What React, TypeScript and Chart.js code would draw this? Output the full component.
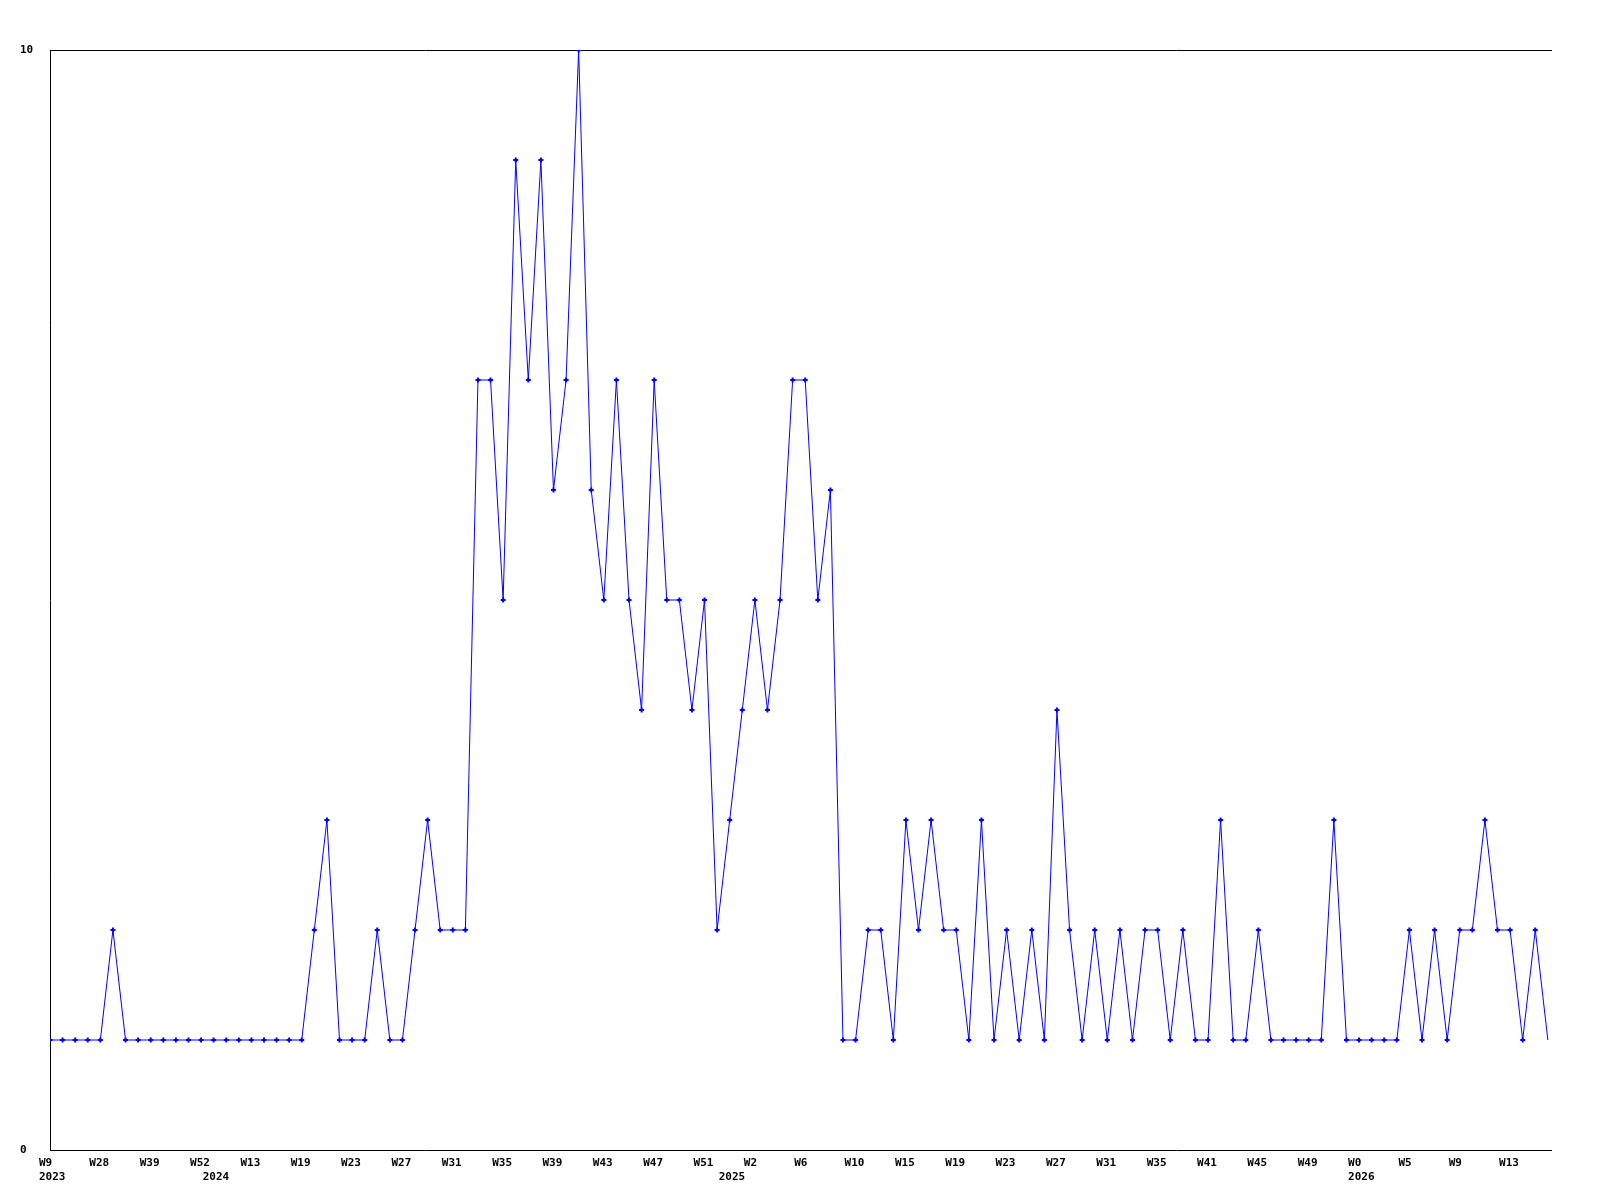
import React, { useEffect, useRef } from "react";
import { Chart, registerables } from "chart.js";

Chart.register(...registerables);

// Weekly series values (one per point, left to right)
const values: number[] = [
  1, 1, 1, 1, 1, 2, 1, 1, 1, 1, 1, 1, 1, 1, 1, 1, 1, 1, 1, 1, 1,
  2, 3, 1, 1, 1, 2, 1, 1, 2, 3, 2, 2, 2,
  7, 7, 5, 9, 7, 9, 6, 7, 10, 6, 5, 7, 5, 4, 7, 5, 5, 4, 5, 2, 3, 4, 5, 4, 5, 7, 7, 5, 6,
  1, 1, 2, 2, 1, 3, 2, 3, 2, 2, 1, 3, 1, 2, 1, 2, 1, 4, 2,
  1, 2, 1, 2, 1, 2, 2, 1, 2, 1, 1, 3, 1, 1, 2, 1, 1, 1, 1, 1, 3, 1, 1, 1, 1, 1, 2, 1, 2, 1, 2, 2, 3, 2, 2, 1, 2, 1,
];

// Week tick labels, shown on every 4th point
const weekTickLabels: string[] = [
  "W9", "W28", "W39", "W52", "W13", "W19", "W23", "W27", "W31", "W35",
  "W39", "W43", "W47", "W51", "W2", "W6", "W10", "W15", "W19", "W23",
  "W27", "W31", "W35", "W41", "W45", "W49", "W0", "W5", "W9", "W13",
];
const weekTickEvery = 4;

// Year labels and the point index they sit under
const yearTickPositions: number[] = [0, 13, 54, 104];
const yearTickLabels: string[] = ["2023", "2024", "2025", "2026"];

// Y axis tick values
const yTickValues: number[] = [0, 10];

const FONT = { family: "'DejaVu Sans Mono', monospace", size: 11, weight: "bold" as const };

export default function App() {
  const canvasRef = useRef<HTMLCanvasElement | null>(null);

  useEffect(() => {
    const canvas = canvasRef.current;
    if (!canvas) return;
    const xMax = values.length - 1 + 0.25;
    const points = values.map((v, i) => ({ x: i, y: v }));

    const chart = new Chart(canvas, {
      type: "line",
      data: {
        datasets: [
          {
            data: points,
            borderColor: "#0000ff",
            backgroundColor: "#0000ff",
            borderWidth: 1,
            pointStyle: "cross",
            pointRadius: (ctx: any) => (ctx.dataIndex === values.length - 1 ? 0 : 2.5),
            pointBorderWidth: 2,
            pointBorderColor: "#0000ff",
            pointBackgroundColor: "#0000ff",
            tension: 0,
            xAxisID: "x",
            yAxisID: "y",
          },
        ],
      },
      options: {
        responsive: false,
        animation: false,
        layout: { padding: { left: 20, top: 50, right: 49, bottom: 0 } },
        plugins: { legend: { display: false }, tooltip: { enabled: false } },
        scales: {
          x: {
            type: "linear",
            position: "bottom",
            weight: 0,
            min: 0,
            max: xMax,
            grid: { display: false, drawTicks: false },
            border: { display: true, color: "#000", width: 1 },
            afterBuildTicks: (scale: any) => {
              scale.ticks = weekTickLabels.map((_, i) => ({ value: i * weekTickEvery }));
            },
            afterFit: (scale: any) => {
              scale.height = 18;
            },
            ticks: {
              autoSkip: false,
              maxRotation: 0,
              padding: 7,
              align: "start",
              labelOffset: -11,
              color: "#000",
              font: FONT,
              callback: (value: any) => {
                const idx = Math.round(Number(value) / weekTickEvery);
                return weekTickLabels[idx] ?? "";
              },
            },
          },
          years: {
            type: "linear",
            position: "bottom",
            weight: 1,
            min: 0,
            max: xMax,
            grid: { display: false, drawTicks: false },
            border: { display: false },
            afterBuildTicks: (scale: any) => {
              scale.ticks = yearTickPositions.map((p) => ({ value: p }));
            },
            afterFit: (scale: any) => {
              scale.height = 32;
            },
            ticks: {
              autoSkip: false,
              maxRotation: 0,
              padding: 3,
              align: "start",
              labelOffset: -11,
              color: "#000",
              font: FONT,
              callback: (value: any) => {
                const k = yearTickPositions.indexOf(Math.round(Number(value)));
                return k >= 0 ? yearTickLabels[k] : "";
              },
            },
          },
          xTop: {
            type: "linear",
            position: "top",
            min: 0,
            max: xMax,
            grid: { display: false, drawTicks: false },
            border: { display: true, color: "#000", width: 1 },
            ticks: { display: false },
            afterFit: (scale: any) => {
              scale.height = 0;
            },
          },
          y: {
            type: "linear",
            position: "left",
            min: 0,
            max: 10,
            grid: { display: false, drawTicks: false },
            border: { display: true, color: "#000", width: 1 },
            afterBuildTicks: (scale: any) => {
              scale.ticks = yTickValues.map((v) => ({ value: v }));
            },
            afterFit: (scale: any) => {
              scale.width = 30;
            },
            ticks: {
              crossAlign: "far",
              padding: 4,
              color: "#000",
              font: FONT,
            },
          },
        },
      },
    } as any);

    return () => {
      chart.destroy();
    };
  }, []);

  return (
    <div style={{ position: "absolute", left: 0, top: 0, width: 1600, height: 1200, background: "#fff" }}>
      <canvas ref={canvasRef} width={1600} height={1200} style={{ display: "block" }} />
    </div>
  );
}
